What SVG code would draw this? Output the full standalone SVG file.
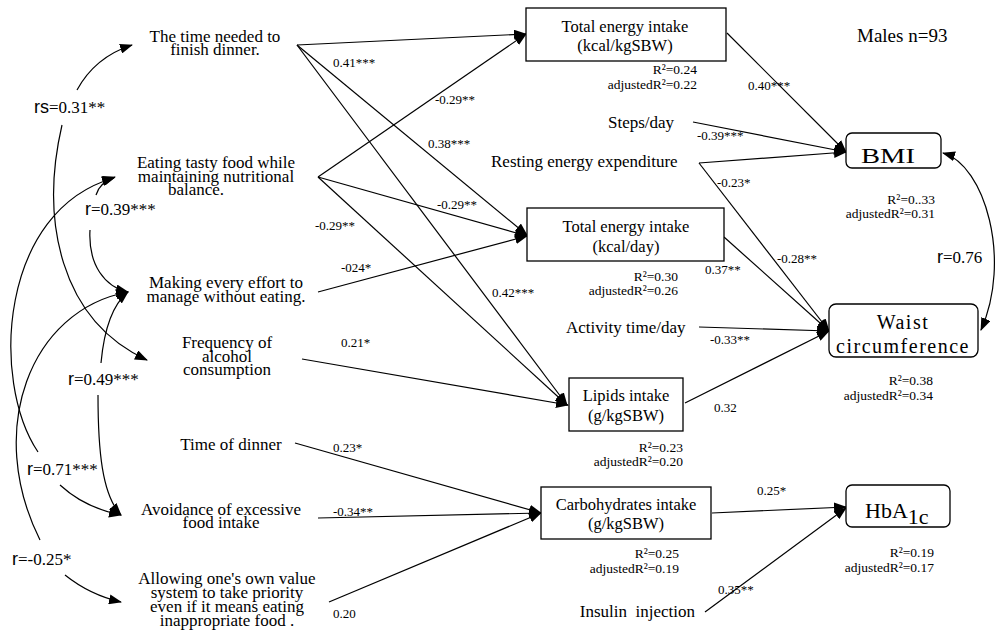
<svg xmlns="http://www.w3.org/2000/svg" width="1000" height="633" viewBox="0 0 1000 633">
<style>
  text { font-family: "Liberation Serif", "Times New Roman", serif; fill: #000; }
  .lbl { font-size: 17px; }
  .mid { text-anchor: middle; }
  .box { font-size: 16.5px; text-anchor: middle; }
  .co { font-size: 13px; }
  .r2 { font-size: 13.5px; text-anchor: end; }
  .cor { font-size: 17px; }
  tspan.rs { font-family: "Liberation Sans", Arial, sans-serif; font-size: 18px; }
  tspan.num { font-family: "Liberation Serif", "Times New Roman", serif; font-size: 17px; }
  .big { font-size: 20px; text-anchor: middle; }
  rect.sq { fill: #fff; stroke: #000; stroke-width: 1.3; }
  rect.rd { fill: #fff; stroke: #000; stroke-width: 1.3; }
  .edge { fill: none; stroke: #000; stroke-width: 1.2; marker-end: url(#ah); }
</style>
<defs>
  <marker id="ah" viewBox="0 0 13 10" refX="12" refY="5" markerWidth="13" markerHeight="10" markerUnits="userSpaceOnUse" orient="auto-start-reverse">
    <path d="M0,0 L13,5 L0,10 z" fill="#000"/>
  </marker>
</defs>

<g id="connectors">
  <path class="edge" d="M297,45 L526,34"/>
  <path class="edge" d="M297,45 L527,235"/>
  <path class="edge" d="M297,45 L567,405"/>
  <path class="edge" d="M318,177 L526,34"/>
  <path class="edge" d="M318,177 L527,236"/>
  <path class="edge" d="M318,177 L567,405"/>
  <path class="edge" d="M318,292 L527,236"/>
  <path class="edge" d="M302,359 L568,405"/>
  <path class="edge" d="M295,443 L541,513"/>
  <path class="edge" d="M318,518 L541,513"/>
  <path class="edge" d="M329,602 L541,513"/>
  <path class="edge" d="M727,33 L846,152"/>
  <path class="edge" d="M693,122 L846,152"/>
  <path class="edge" d="M699,163 L846,152"/>
  <path class="edge" d="M699,163 L829,331"/>
  <path class="edge" d="M724,237 L829,331"/>
  <path class="edge" d="M699,327 L829,331"/>
  <path class="edge" d="M685,403 L829,331"/>
  <path class="edge" d="M712,513 L846,507"/>
  <path class="edge" d="M705,612 L846,508"/>
  <path class="edge" style="marker-start:url(#ah)" d="M943,153 C985,165 1012,260 981,330"/>
  <path class="edge" d="M77,90 Q95,57 132,45"/>
  <path class="edge" d="M62,125 C40,220 60,320 147,360"/>
  <path class="edge" d="M96,195 Q100,182 115,177"/>
  <path class="edge" d="M90,230 C88,265 105,287 128,292"/>
  <path class="edge" d="M38,452 C-10,380 0,210 114,178"/>
  <path class="edge" d="M40,540 C-15,430 30,310 128,292"/>
  <path class="edge" d="M101,363 C104,330 112,305 128,292"/>
  <path class="edge" d="M98,395 C98,450 102,495 121,515"/>
  <path class="edge" d="M60,485 Q85,508 121,515"/>
  <path class="edge" d="M65,575 Q90,595 121,602"/>
</g>

<g id="n-time-needed">
  <text class="lbl mid" x="215" y="42">The time needed to<tspan x="215" dy="13">finish dinner.</tspan></text>
</g>
<g id="n-eating-tasty">
  <text class="lbl mid" x="216" y="168">Eating tasty food while<tspan x="216" dy="14">maintaining nutritional</tspan><tspan x="196" dy="13">balance.</tspan></text>
</g>
<g id="n-making-effort">
  <text class="lbl mid" x="226" y="288">Making every effort to<tspan x="226" dy="14">manage without eating.</tspan></text>
</g>
<g id="n-alcohol">
  <text class="lbl mid" x="227" y="348">Frequency of<tspan x="227" dy="14">alcohol</tspan><tspan x="227" dy="13">consumption</tspan></text>
</g>
<g id="n-time-dinner">
  <text class="lbl mid" x="231" y="450">Time of dinner</text>
</g>
<g id="n-avoidance">
  <text class="lbl mid" x="221" y="515">Avoidance of excessive<tspan x="221" dy="13">food intake</tspan></text>
</g>
<g id="n-allowing">
  <text class="lbl mid" x="227" y="584">Allowing one's own value<tspan x="227" dy="14">system to take priority</tspan><tspan x="227" dy="14">even if it means eating</tspan><tspan x="227" dy="14">inappropriate food .</tspan></text>
</g>

<g id="n-energy-kg">
  <rect class="sq" x="526" y="8" width="200" height="53"/>
  <text class="box" x="625" y="32">Total energy intake<tspan x="625" dy="19">(kcal/kgSBW)</tspan></text>
  <text class="r2" x="697" y="74">R²=0.24<tspan x="697" dy="15">adjustedR²=0.22</tspan></text>
</g>
<g id="n-energy-day">
  <rect class="sq" x="527" y="208" width="197" height="53"/>
  <text class="box" x="626" y="232">Total energy intake<tspan x="626" dy="20">(kcal/day)</tspan></text>
  <text class="r2" x="678" y="281">R²=0.30<tspan x="678" dy="14">adjustedR²=0.26</tspan></text>
</g>
<g id="n-lipids">
  <rect class="sq" x="569" y="378" width="114" height="53"/>
  <text class="box" x="626" y="401">Lipids intake<tspan x="626" dy="20">(g/kgSBW)</tspan></text>
  <text class="r2" x="683" y="452">R²=0.23<tspan x="683" dy="14">adjustedR²=0.20</tspan></text>
</g>
<g id="n-carbs">
  <rect class="sq" x="541" y="487" width="170" height="52"/>
  <text class="box" x="626" y="510">Carbohydrates intake<tspan x="626" dy="19">(g/kgSBW)</tspan></text>
  <text class="r2" x="679" y="558">R²=0.25<tspan x="679" dy="15">adjustedR²=0.19</tspan></text>
</g>

<g id="n-steps"><text class="lbl" x="608" y="128">Steps/day</text></g>
<g id="n-resting"><text class="lbl" x="491" y="167">Resting energy expenditure</text></g>
<g id="n-activity"><text class="lbl" x="566" y="333">Activity time/day</text></g>
<g id="n-insulin"><text class="lbl" x="695" y="617" text-anchor="end" xml:space="preserve">Insulin  injection</text></g>

<g id="n-bmi">
  <rect class="rd" x="846" y="133" width="95" height="35" rx="6"/>
  <text class="big" x="888" y="163" textLength="54" lengthAdjust="spacingAndGlyphs">BMI</text>
  <text class="r2" x="935" y="204">R²=0..33<tspan x="935" dy="14">adjustedR²=0.31</tspan></text>
</g>
<g id="n-waist">
  <rect class="rd" x="829" y="304" width="149" height="53" rx="7"/>
  <text class="big" x="903" y="329" style="letter-spacing:1.5px">Waist<tspan x="903" dy="24">circumference</tspan></text>
  <text class="r2" x="933" y="385">R²=0.38<tspan x="933" dy="15">adjustedR²=0.34</tspan></text>
</g>
<g id="n-hba1c">
  <rect class="rd" x="846" y="485" width="104" height="42" rx="6"/>
  <text x="865" y="518" style="font-size:22px">HbA<tspan dy="6">1c</tspan></text>
  <text class="r2" x="934" y="557">R²=0.19<tspan x="934" dy="15">adjustedR²=0.17</tspan></text>
</g>

<g id="title"><text x="857" y="42" style="font-size:19px">Males n=93</text></g>

<g id="coefficients">
  <text class="co" x="333" y="67">0.41***</text>
  <text class="co" x="435" y="104">-0.29**</text>
  <text class="co" x="428" y="148">0.38***</text>
  <text class="co" x="437" y="209">-0.29**</text>
  <text class="co" x="315" y="230">-0.29**</text>
  <text class="co" x="341" y="272">-024*</text>
  <text class="co" x="492" y="297">0.42***</text>
  <text class="co" x="341" y="347">0.21*</text>
  <text class="co" x="333" y="452">0.23*</text>
  <text class="co" x="333" y="516">-0.34**</text>
  <text class="co" x="333" y="618">0.20</text>
  <text class="co" x="748" y="90">0.40***</text>
  <text class="co" x="697" y="140">-0.39***</text>
  <text class="co" x="717" y="187">-0.23*</text>
  <text class="co" x="777" y="263">-0.28**</text>
  <text class="co" x="705" y="274">0.37**</text>
  <text class="co" x="710" y="344">-0.33**</text>
  <text class="co" x="714" y="412">0.32</text>
  <text class="co" x="757" y="495">0.25*</text>
  <text class="co" x="718" y="594">0.35**</text>
</g>

<g id="correlations">
  <text class="cor" x="34" y="113"><tspan class="rs">rs</tspan><tspan class="num">=0.31**</tspan></text>
  <text class="cor" x="85" y="215"><tspan class="rs">r</tspan><tspan class="num">=0.39***</tspan></text>
  <text class="cor" x="68" y="385"><tspan class="rs">r</tspan><tspan class="num">=0.49***</tspan></text>
  <text class="cor" x="27" y="475"><tspan class="rs">r</tspan><tspan class="num">=0.71***</tspan></text>
  <text class="cor" x="12" y="565"><tspan class="rs">r</tspan><tspan class="num">=-0.25*</tspan></text>
  <text class="cor" x="937" y="263"><tspan class="rs">r</tspan><tspan class="num">=0.76</tspan></text>
</g>
</svg>
